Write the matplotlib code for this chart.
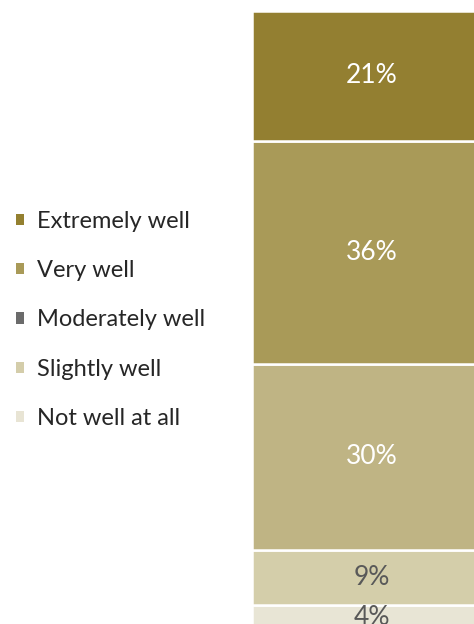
import matplotlib.pyplot as plt
from matplotlib.patches import Patch

plt.rcParams["font.family"] = ["Lato", "DejaVu Sans"]

# data, bottom to top of the stack
categories = ["Not well at all", "Slightly well", "Moderately well", "Very well", "Extremely well"]
values = [4, 9, 30, 36, 21]
bar_colors = ["#E8E5D5", "#D4CEAA", "#BFB484", "#A99A58", "#937F31"]
legend_colors = ["#E8E4D4", "#D4CDAA", "#6B6B6B", "#A99A58", "#948030"]
label_colors = ["#595959", "#595959", "white", "white", "white"]

fig = plt.figure(figsize=(4.74, 6.24), dpi=100)
# bar runs off the right and bottom edge like the original crop
ax = fig.add_axes([252 / 474, -0.0096, 240 / 474, 0.992])

bottom = 0
for cat, val, col, lc in zip(categories, values, bar_colors, label_colors):
    ax.bar(0, val, width=1, bottom=bottom, align="edge", color=col,
           edgecolor="white", linewidth=1.8)
    ax.text(0.5, bottom + val / 2, f"{val}%", ha="center", va="center",
            color=lc, fontsize=19)
    bottom += val

ax.set_xlim(0, 1)
ax.set_ylim(0, 100)
ax.axis("off")

handles = [Patch(facecolor=c, edgecolor="none") for c in legend_colors[::-1]]
fig.legend(handles, categories[::-1], loc="center left",
           bbox_to_anchor=(-0.012, 1 - 320 / 624), frameon=False,
           fontsize=17, handlelength=0.36, handleheight=0.36,
           handletextpad=0.55, labelspacing=1.2, labelcolor="#262626")

fig.savefig("out.png", dpi=100)
